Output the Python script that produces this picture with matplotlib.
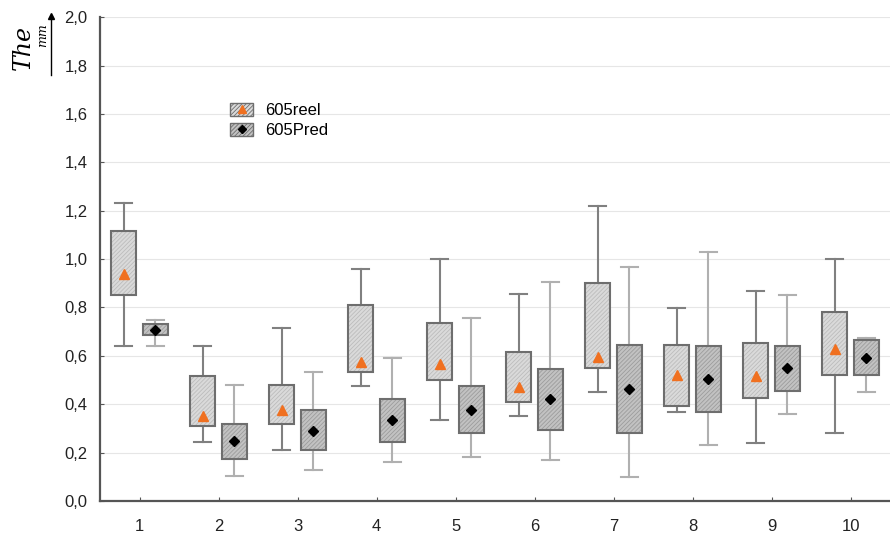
import matplotlib.pyplot as plt
from matplotlib.patches import Patch, PathPatch
from matplotlib.lines import Line2D
from matplotlib.legend_handler import HandlerTuple

plt.rcParams['font.family'] = ['Liberation Sans', 'DejaVu Sans']
plt.rcParams['hatch.linewidth'] = 0.6

groups = [1, 2, 3, 4, 5, 6, 7, 8, 9, 10]

# reel series: whisker low, Q1, Q3, whisker high, mean
reel_lo = [0.64, 0.245, 0.21, 0.475, 0.335, 0.35, 0.45, 0.37, 0.24, 0.28]
reel_q1 = [0.85, 0.31, 0.32, 0.535, 0.50, 0.41, 0.55, 0.392, 0.425, 0.52]
reel_q3 = [1.115, 0.515, 0.48, 0.81, 0.735, 0.615, 0.90, 0.646, 0.655, 0.78]
reel_hi = [1.23, 0.64, 0.715, 0.96, 1.0, 0.855, 1.22, 0.797, 0.87, 1.0]
reel_mean = [0.94, 0.35, 0.375, 0.575, 0.565, 0.47, 0.596, 0.52, 0.515, 0.63]

# pred series
pred_lo = [0.64, 0.105, 0.13, 0.16, 0.18, 0.17, 0.10, 0.232, 0.36, 0.45]
pred_q1 = [0.685, 0.175, 0.21, 0.245, 0.28, 0.295, 0.28, 0.366, 0.455, 0.52]
pred_q3 = [0.73, 0.32, 0.375, 0.42, 0.475, 0.545, 0.643, 0.64, 0.64, 0.665]
pred_hi = [0.75, 0.48, 0.535, 0.59, 0.755, 0.905, 0.966, 1.03, 0.85, 0.675]
pred_mean = [0.705, 0.25, 0.29, 0.335, 0.375, 0.42, 0.463, 0.503, 0.55, 0.59]

yticks = [0.0, 0.2, 0.4, 0.6, 0.8, 1.0, 1.2, 1.4, 1.6, 1.8, 2.0]


def make_stats(lo, q1, q3, hi, mean):
    return [dict(whislo=a, q1=b, med=(b + c) / 2, q3=c, whishi=d, mean=m, fliers=[])
            for a, b, c, d, m in zip(lo, q1, q3, hi, mean)]


fig = plt.figure(figsize=(8.9, 5.37), dpi=100)
ax = fig.add_axes([0.1124, 0.067, 0.8876, 0.901])

series = [
    (make_stats(reel_lo, reel_q1, reel_q3, reel_hi, reel_mean), -0.2,
     '#dadada', '#bcbcbc', '#808080',
     dict(marker='^', markerfacecolor='#f07020', markeredgecolor='#f07020', markersize=7)),
    (make_stats(pred_lo, pred_q1, pred_q3, pred_hi, pred_mean), 0.2,
     '#c2c2c2', '#9c9c9c', '#b0b0b0',
     dict(marker='D', markerfacecolor='black', markeredgecolor='black', markersize=5)),
]

for stats, off, fc, hc, wc, mprops in series:
    pos = [g + off for g in groups]
    res = ax.bxp(stats, positions=pos, widths=0.32, patch_artist=True,
                 showmeans=True, showfliers=False, meanprops=mprops,
                 medianprops=dict(visible=False),
                 whiskerprops=dict(color=wc, linewidth=1.5),
                 capprops=dict(color=wc, linewidth=1.5),
                 capwidths=0.22, zorder=3)
    for box in res['boxes']:
        box.set_facecolor(fc)
        box.set_edgecolor(hc)
        box.set_hatch('////////')
        box.set_linewidth(0)
        ax.add_patch(PathPatch(box.get_path(), fill=False, edgecolor='#6e6e6e',
                               linewidth=1.5, zorder=3.5))
    for m in res['means']:
        m.set_zorder(4)

ax.set_xlim(0.5, 10.5)
ax.set_ylim(0, 2.0)
ax.set_xticks(groups)
ax.set_xticklabels([str(g) for g in groups])
ax.set_yticks(yticks)
ax.set_yticklabels([f'{v:.1f}'.replace('.', ',') for v in yticks])
ax.tick_params(direction='in', length=3, labelsize=12, colors='#555555',
               labelcolor='#222222')
ax.tick_params(axis='y', pad=9)
ax.tick_params(axis='x', pad=13)
ax.yaxis.grid(True, color='#e6e6e6', linewidth=0.8)
ax.set_axisbelow(True)
for s in ['top', 'right']:
    ax.spines[s].set_visible(False)
for s in ['left', 'bottom']:
    ax.spines[s].set_color('#555555')
    ax.spines[s].set_linewidth(1.6)

# y label: "The" with unit and arrow
fig.text(0.026, 0.911, 'The', rotation=90, fontsize=17, family='DejaVu Serif',
         style='italic', ha='center', va='center')
fig.text(0.048, 0.935, 'mm', rotation=90, fontsize=9, family='DejaVu Serif',
         style='italic', ha='center', va='center')
fig.add_artist(Line2D([0.0573, 0.0573], [0.86, 0.97], color='black', linewidth=1))
fig.add_artist(Line2D([0.0573], [0.97], marker='^', color='black', markersize=5))

h_reel = (Patch(facecolor='#dadada', edgecolor='#6e6e6e', hatch='////////'),
          Line2D([], [], linestyle='none', marker='^', color='#f07020', markersize=6))
h_pred = (Patch(facecolor='#c2c2c2', edgecolor='#6e6e6e', hatch='////////'),
          Line2D([], [], linestyle='none', marker='D', color='black', markersize=4))
ax.legend([h_reel, h_pred], ['605reel', '605Pred'],
          handler_map={tuple: HandlerTuple(ndivide=1)},
          loc='upper left', bbox_to_anchor=(0.1645, 0.822), frameon=False,
          borderpad=0, borderaxespad=0,
          fontsize=12, handlelength=1.4, handleheight=0.75, labelspacing=0.3,
          handletextpad=0.7)

fig.savefig('out.png', dpi=100)
